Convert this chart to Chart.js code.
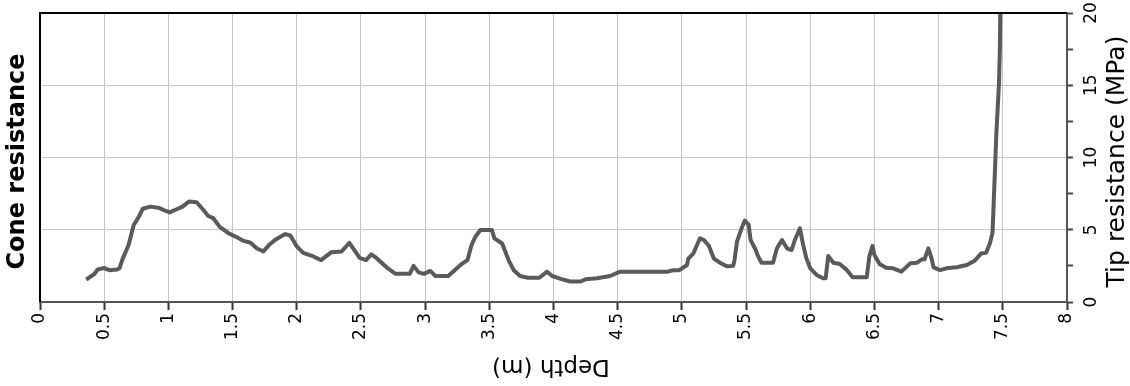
<!DOCTYPE html>
<html>
<head>
<meta charset="utf-8">
<title>Cone resistance</title>
<script src="https://cdn.jsdelivr.net/npm/chart.js@4.4.1/dist/chart.umd.min.js"></script>
<style>
  body { margin: 0; background: #fff; }
  canvas { display: block; }
</style>
</head>
<body>
<canvas id="cpt" width="1130" height="386"></canvas>
<script>
// depth (m) and tip resistance (MPa)
const depth = [
  0.36, 0.40, 0.42, 0.45, 0.50, 0.54, 0.60, 0.62, 0.64, 0.69, 0.73, 0.77, 0.80, 0.86, 0.93, 0.98,
  1.01, 1.06, 1.11, 1.16, 1.22, 1.27, 1.31, 1.35, 1.40, 1.47, 1.53, 1.58, 1.64, 1.69, 1.74, 1.79,
  1.84, 1.91, 1.95, 2.00, 2.05, 2.13, 2.19, 2.27, 2.35, 2.41, 2.49, 2.54, 2.58, 2.62, 2.65, 2.70,
  2.77, 2.88, 2.91, 2.95, 2.99, 3.04, 3.08, 3.18, 3.23, 3.28, 3.33, 3.36, 3.39, 3.43, 3.52, 3.54,
  3.60, 3.65, 3.69, 3.74, 3.80, 3.89, 3.95, 3.99, 4.05, 4.13, 4.21, 4.25, 4.34, 4.44, 4.52, 4.89,
  4.93, 4.98, 5.04, 5.05, 5.09, 5.14, 5.17, 5.21, 5.25, 5.30, 5.35, 5.40, 5.41, 5.43, 5.465, 5.49,
  5.52, 5.535, 5.57, 5.595, 5.62, 5.71, 5.74, 5.78, 5.82, 5.855, 5.88, 5.92, 5.945, 5.97, 6.00, 6.05,
  6.10, 6.12, 6.14, 6.18, 6.23, 6.28, 6.33, 6.44, 6.46, 6.485, 6.50, 6.54, 6.59, 6.645, 6.71, 6.78,
  6.83, 6.87, 6.89, 6.92, 6.945, 6.96, 7.01, 7.06, 7.14, 7.22, 7.28, 7.33, 7.37, 7.40, 7.42, 7.44,
  7.45, 7.47, 7.477, 7.48
];
const tipResistance = [
  1.55, 1.8, 1.9, 2.25, 2.35, 2.2, 2.25, 2.35, 2.9, 3.94, 5.33, 5.9, 6.45, 6.6, 6.5, 6.3,
  6.2, 6.4, 6.6, 6.95, 6.9, 6.4, 5.95, 5.8, 5.2, 4.75, 4.5, 4.25, 4.1, 3.7, 3.5, 4.0,
  4.35, 4.7, 4.6, 3.85, 3.4, 3.15, 2.9, 3.45, 3.5, 4.1, 3.05, 2.9, 3.3, 3.05, 2.8, 2.4,
  1.95, 1.95, 2.5, 2.05, 1.95, 2.15, 1.8, 1.8, 2.2, 2.6, 2.9, 3.9, 4.5, 4.98, 4.98, 4.4,
  4.05, 2.9, 2.2, 1.8, 1.68, 1.68, 2.1, 1.8, 1.62, 1.42, 1.42, 1.57, 1.64, 1.8, 2.1, 2.1,
  2.2, 2.2, 2.56, 3.0, 3.37, 4.4, 4.3, 3.9, 3.0, 2.7, 2.47, 2.5, 2.9, 4.2, 5.1, 5.63,
  5.35, 4.3, 3.7, 3.14, 2.72, 2.72, 3.7, 4.29, 3.7, 3.6, 4.29, 5.1, 3.94, 3.02, 2.33, 1.87,
  1.64, 1.64, 3.18, 2.72, 2.63, 2.26, 1.71, 1.71, 3.14, 3.88, 3.25, 2.63, 2.37, 2.33, 2.1, 2.68,
  2.72, 2.95, 2.95, 3.71, 3.02, 2.4, 2.21, 2.33, 2.4, 2.56, 2.85, 3.35, 3.4, 4.06, 4.8, 9.4,
  11.7, 15.1, 17.4, 20
];
const tipTickLabels = [0, 5, 10, 15, 20];

const titleLeft = "Cone resistance";
const titleRight = "Tip resistance (MPa)";
const titleBottom = "Depth (m)";

Chart.defaults.font.family = "'DejaVu Sans'";
Chart.defaults.color = "#000";

// rotated labels and the black frame on top/left
const rotatedText = {
  id: "rotatedText",
  afterDraw(chart) {
    const { ctx, chartArea, scales } = chart;
    ctx.save();

    ctx.strokeStyle = "#000";
    ctx.lineWidth = 2;
    ctx.beginPath();
    ctx.moveTo(chartArea.left, chartArea.bottom);
    ctx.lineTo(chartArea.left, chartArea.top);
    ctx.lineTo(chartArea.right, chartArea.top);
    ctx.stroke();

    const drawRotated = (text, x, y, angle, font) => {
      ctx.save();
      ctx.translate(x, y);
      ctx.rotate(angle);
      ctx.font = font;
      ctx.fillStyle = "#000";
      ctx.textAlign = "center";
      ctx.textBaseline = "middle";
      ctx.fillText(text, 0, 0);
      ctx.restore();
    };

    tipTickLabels.forEach((v) => {
      const y = scales.y.getPixelForValue(v);
      drawRotated(String(v), chartArea.right + 25, y, -Math.PI / 2, "17px 'DejaVu Sans'");
    });

    const midY = (chartArea.top + chartArea.bottom) / 2 + 4;
    drawRotated(titleLeft, 18, midY, -Math.PI / 2, "bold 24px 'DejaVu Sans'");
    drawRotated(titleRight, 1117, midY, -Math.PI / 2, "25px 'DejaVu Sans'");
    drawRotated(titleBottom, 551, 366, Math.PI, "23px 'DejaVu Sans'");

    ctx.restore();
  },
};

const points = depth.map((d, i) => ({ x: d, y: tipResistance[i] }));

new Chart(document.getElementById("cpt"), {
  type: "line",
  data: {
    datasets: [
      {
        label: titleLeft,
        data: points,
        borderColor: "#5a5a5a",
        borderWidth: 4,
        pointRadius: 0,
        tension: 0,
        borderJoinStyle: "round",
      },
    ],
  },
  options: {
    responsive: false,
    animation: false,
    devicePixelRatio: 1,
    layout: { padding: { left: 40, top: 13, right: 0, bottom: 0 } },
    plugins: { legend: { display: false }, tooltip: { enabled: false } },
    scales: {
      x: {
        type: "linear",
        position: "bottom",
        min: 0,
        max: 8,
        ticks: {
          stepSize: 0.5,
          minRotation: 90,
          maxRotation: 90,
          padding: 3,
          font: { size: 17 },
          color: "#000",
          callback: (v) => String(v),
        },
        grid: { color: "#c4c4c4", lineWidth: 1, tickLength: 8, tickColor: "#333", tickWidth: 2 },
        border: { color: "#555", width: 2 },
        afterFit: (scale) => {
          scale.height = 84;
        },
      },
      y: {
        position: "right",
        min: 0,
        max: 20,
        ticks: { stepSize: 2.5, callback: () => "" },
        grid: {
          color: (c) => (c.tick && c.tick.value % 5 === 0 ? "#c4c4c4" : "rgba(0,0,0,0)"),
          lineWidth: 1,
          tickLength: 6,
          tickColor: "#444",
          tickWidth: 2,
        },
        border: { color: "#555", width: 2 },
        afterFit: (scale) => {
          scale.height = scale.height;
          scale.width = 63;
        },
      },
    },
  },
  plugins: [rotatedText],
});
</script>
</body>
</html>
